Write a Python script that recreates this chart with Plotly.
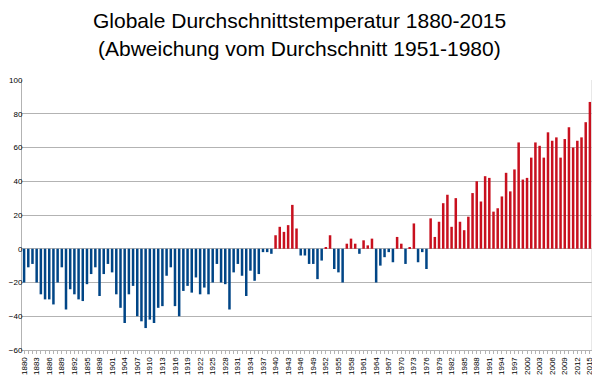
import plotly.graph_objects as go

years = list(range(1880, 2016))
anomalies = [
    -20, -11, -9, -20, -27, -30, -30, -33, -20, -11,
    -36, -24, -27, -30, -31, -21, -15, -11, -28, -15,
    -9, -14, -27, -35, -44, -27, -22, -40, -43, -47,
    -42, -44, -35, -34, -16, -11, -34, -40, -25, -22,
    -26, -17, -27, -23, -27, -20, -9, -20, -21, -36,
    -14, -9, -16, -28, -13, -19, -15, -2, -2, -3,
    8, 13, 10, 14, 26, 12, -4, -4, -9, -9,
    -18, -7, 1, 8, -12, -14, -20, 3, 6, 3,
    -3, 5, 2, 6, -20, -10, -5, -2, -8, 7,
    3, -9, 1, 15, -8, -2, -12, 18, 7, 16,
    27, 32, 13, 30, 16, 11, 19, 33, 40, 28,
    43, 42, 22, 24, 31, 45, 34, 47, 63, 41,
    42, 54, 63, 61, 54, 69, 64, 66, 54, 65,
    72, 60, 64, 66, 75, 87,
]
y_ticks = [-60, -40, -20, 0, 20, 40, 60, 80, 100]
x_tick_labels = [str(y) if (y - 1880) % 3 == 0 else "" for y in years]

title_line1 = "Globale Durchschnittstemperatur 1880-2015"
title_line2 = "(Abweichung vom Durchschnitt 1951-1980)"

colors = ["#c8101e" if v > 0 else "#004586" for v in anomalies]

fig = go.Figure(go.Bar(x=years, y=anomalies, marker=dict(color=colors, line=dict(width=0)),
                       showlegend=False))

FONT = "Liberation Sans, Arial, sans-serif"
# page body has an 8px default margin, so the figure is sized 592x371
fig.update_layout(
    width=592, height=371,
    margin=dict(l=14, r=8, t=72, b=29, autoexpand=False),
    paper_bgcolor="white", plot_bgcolor="white",
    bargap=0.4,
    font=dict(family=FONT, color="black"),
)
fig.add_annotation(text=title_line1, xref="paper", yref="paper", x=0.4877, y=1.219,
                   xanchor="center", yanchor="middle", showarrow=False,
                   font=dict(size=21, family=FONT, color="black"))
fig.add_annotation(text=title_line2, xref="paper", yref="paper", x=0.4877, y=1.115,
                   xanchor="center", yanchor="middle", showarrow=False,
                   font=dict(size=21, family=FONT, color="black"))
fig.update_xaxes(
    range=[1879.5, 2015.5], tickmode="array", tickvals=years, ticktext=x_tick_labels,
    tickangle=-90, tickfont=dict(size=8), ticks="outside", ticklen=3, tickcolor="#b3b3b3",
    showgrid=False, showline=True, linecolor="#b3b3b3", mirror=False, zeroline=False,
    automargin=False,
)
fig.update_yaxes(
    range=[-60, 100], tickvals=y_ticks, tickfont=dict(size=8),
    showgrid=True, gridcolor="#b3b3b3", gridwidth=1,
    zeroline=True, zerolinecolor="#b3b3b3", zerolinewidth=1,
    showline=True, linecolor="#b3b3b3", ticks="", 
    ticklabelstandoff=-3,
    automargin=False,
)
fig.add_shape(type="line", xref="paper", yref="paper", x0=1, x1=1, y0=0, y1=1,
              line=dict(color="#d0d0d0", width=1))

fig.write_html("out.html")
